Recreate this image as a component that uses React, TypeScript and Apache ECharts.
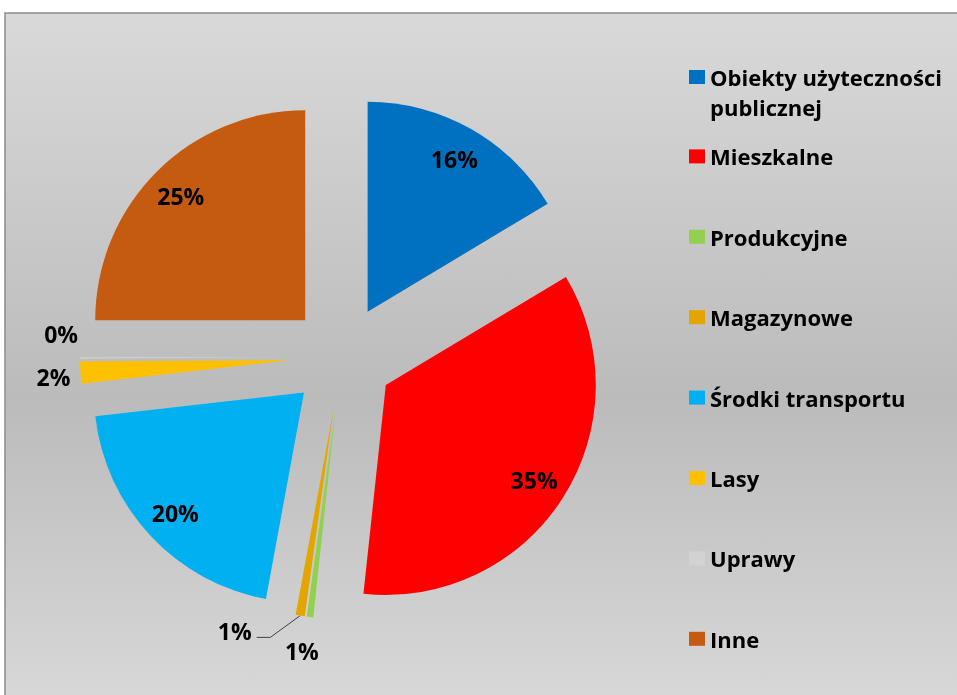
import React, { useEffect, useRef } from 'react';
import * as echarts from 'echarts';

const categories = [
  'Obiekty użyteczności publicznej',
  'Mieszkalne',
  'Produkcyjne',
  'Magazynowe',
  'Środki transportu',
  'Lasy',
  'Uprawy',
  'Inne',
];
const legendTexts = [
  '\nObiekty użyteczności\npublicznej',
  'Mieszkalne',
  'Produkcyjne',
  'Magazynowe',
  'Środki transportu',
  'Lasy',
  'Uprawy',
  'Inne',
];
const values = [16.4, 35.3, 0.5, 0.7, 20.3, 1.7, 0.1, 25.0];
const colors = ['#0070c0', '#ff0000', '#92d050', '#e3a600', '#00b0f0', '#ffc000', '#d2d2d2', '#c55a11'];
const labelInside = [true, true, false, false, true, false, false, true];

const FONT = '"Open Sans", "Noto Sans", sans-serif';

// label placement tweaks for the small (outside-labelled) slices
const outsideCfg: Record<number, any> = {
  2: { labelLine: { show: false, length: 34, length2: 0 }, label: { distanceToLabelLine: -13 }, dy: 0 },
  3: {
    labelLine: { show: true, length: 22, length2: 40, minTurnAngle: 144, lineStyle: { color: '#404040', width: 1 } },
    label: { distanceToLabelLine: 5 },
    dy: -6,
  },
  5: { labelLine: { show: false, length: 4, length2: 0 }, label: { distanceToLabelLine: 6 }, dy: 4 },
  6: { labelLine: { show: false, length: 2, length2: 0 }, label: { distanceToLabelLine: 0 }, dy: -24 },
};

const pctFormatter = (p: any) => Math.round(p.percent) + '%';

export default function App() {
  const ref = useRef<HTMLDivElement>(null);
  useEffect(() => {
    const chart = echarts.init(ref.current!, null, { renderer: 'svg' });
    const labelBase = { fontFamily: FONT, fontWeight: 'bold', fontSize: 23, color: '#000' };

    const sectorData = categories.map((name, i) => {
      const item: any = { name, value: values[i], selected: true, itemStyle: { color: colors[i] } };
      if (labelInside[i]) {
        item.label = { show: false };
        item.labelLine = { show: false };
      } else {
        item.label = { show: true, position: 'outside', ...outsideCfg[i].label };
        item.labelLine = outsideCfg[i].labelLine;
      }
      return item;
    });

    const labelData = categories.map((name, i) => ({
      name,
      value: values[i],
      selected: true,
      label: { show: labelInside[i] },
    }));

    const center = [342, 357];
    const R = 210;

    chart.setOption({
      animation: false,
      graphic: [
        {
          type: 'rect',
          silent: true,
          z: -10,
          shape: { x: 5, y: 13, width: 970, height: 700 },
          style: {
            fill: {
              type: 'linear', x: 0, y: 0, x2: 0, y2: 1,
              colorStops: [
                { offset: 0, color: '#d9d9d9' },
                { offset: 0.55, color: '#bbbbbb' },
                { offset: 1, color: '#d9d9d9' },
              ],
            },
            stroke: '#8a8a8a',
            lineWidth: 1.5,
          },
        },
      ],
      legend: legendTexts.map((txt, i) => ({
        data: [categories[i]],
        formatter: () => txt,
        orient: 'vertical',
        left: 689,
        top: i === 0 ? 32 : 61 + 80.4 * i,
        padding: 0,
        itemWidth: 16,
        itemHeight: 14,
        icon: 'rect',
        selectedMode: false,
        textStyle: {
          fontFamily: FONT,
          fontWeight: 'bold',
          fontSize: 22,
          color: '#000',
          lineHeight: 30,
        },
      })),
      series: [
        {
          type: 'pie',
          name: 'sectors',
          center,
          radius: [0, R],
          startAngle: 90,
          clockwise: true,
          selectedMode: 'multiple',
          selectedOffset: 52,
          avoidLabelOverlap: false,
          minShowLabelAngle: 0,
          silent: true,
          emphasis: { disabled: true },
          label: { ...labelBase, formatter: pctFormatter },
          labelLayout: (p: any) => ({
            hideOverlap: false,
            dy: outsideCfg[p.dataIndex] ? outsideCfg[p.dataIndex].dy : 0,
          }),
          data: sectorData,
        },
        {
          type: 'pie',
          name: 'labels',
          center,
          radius: [136, R],
          startAngle: 90,
          clockwise: true,
          selectedMode: 'multiple',
          selectedOffset: 52,
          avoidLabelOverlap: false,
          silent: true,
          emphasis: { disabled: true },
          itemStyle: { color: 'rgba(0,0,0,0)' },
          label: { ...labelBase, position: 'inside', formatter: pctFormatter },
          labelLine: { show: false },
          data: labelData,
        },
      ],
    });
    return () => chart.dispose();
  }, []);
  return <div ref={ref} style={{ position: 'fixed', left: 0, top: 0, width: 957, height: 695 }} />;
}
